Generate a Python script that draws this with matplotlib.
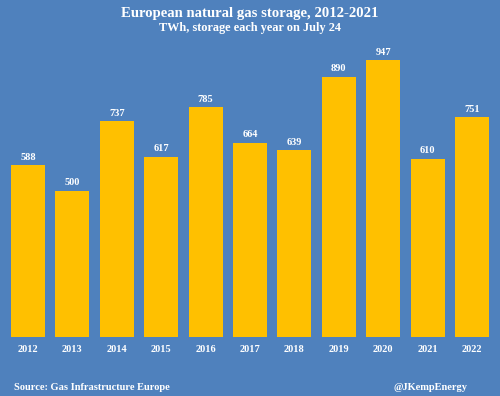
import matplotlib
matplotlib.use("Agg")
import matplotlib.pyplot as plt

years = ["2012", "2013", "2014", "2015", "2016", "2017", "2018", "2019", "2020", "2021", "2022"]
values = [588, 500, 737, 617, 785, 664, 639, 890, 947, 610, 751]

bg = "#4F81BD"
bar_color = "#FFC000"
plt.rcParams["font.family"] = ["Liberation Serif", "DejaVu Serif"]

fig = plt.figure(figsize=(5, 3.96), dpi=100, facecolor=bg)
ax = fig.add_axes([0.0116, 0.149, 0.9768, 0.7386])
ax.set_facecolor(bg)
x = range(len(years))
bars = ax.bar(x, values, width=0.77, color=bar_color)
for xi, v in zip(x, values):
    ax.text(xi, v + 12, str(v), ha="center", va="bottom", color="white",
            fontsize=7.5, fontweight="bold")
ax.set_xlim(-0.5, len(years) - 0.5)
ax.set_ylim(0, 1000)
ax.set_xticks(list(x))
ax.set_xticklabels(years, color="white", fontsize=7.5, fontweight="bold")
ax.tick_params(axis="x", length=0, pad=6)
ax.set_yticks([])
for s in ax.spines.values():
    s.set_visible(False)

fig.text(0.5, 1 - 13 / 396, "European natural gas storage, 2012-2021", ha="center", va="center",
         color="white", fontsize=10.6, fontweight="bold")
fig.text(0.5, 1 - 28 / 396, "TWh, storage each year on July 24", ha="center", va="center",
         color="white", fontsize=8.8, fontweight="bold")
fig.text(14 / 500, 1 - 387 / 396, "Source: Gas Infrastructure Europe", ha="left", va="center",
         color="white", fontsize=7.5, fontweight="bold")
fig.text(467 / 500, 1 - 387 / 396, "@JKempEnergy", ha="right", va="center",
         color="white", fontsize=7.5, fontweight="bold")

fig.savefig("out.png", dpi=100, facecolor=bg)
